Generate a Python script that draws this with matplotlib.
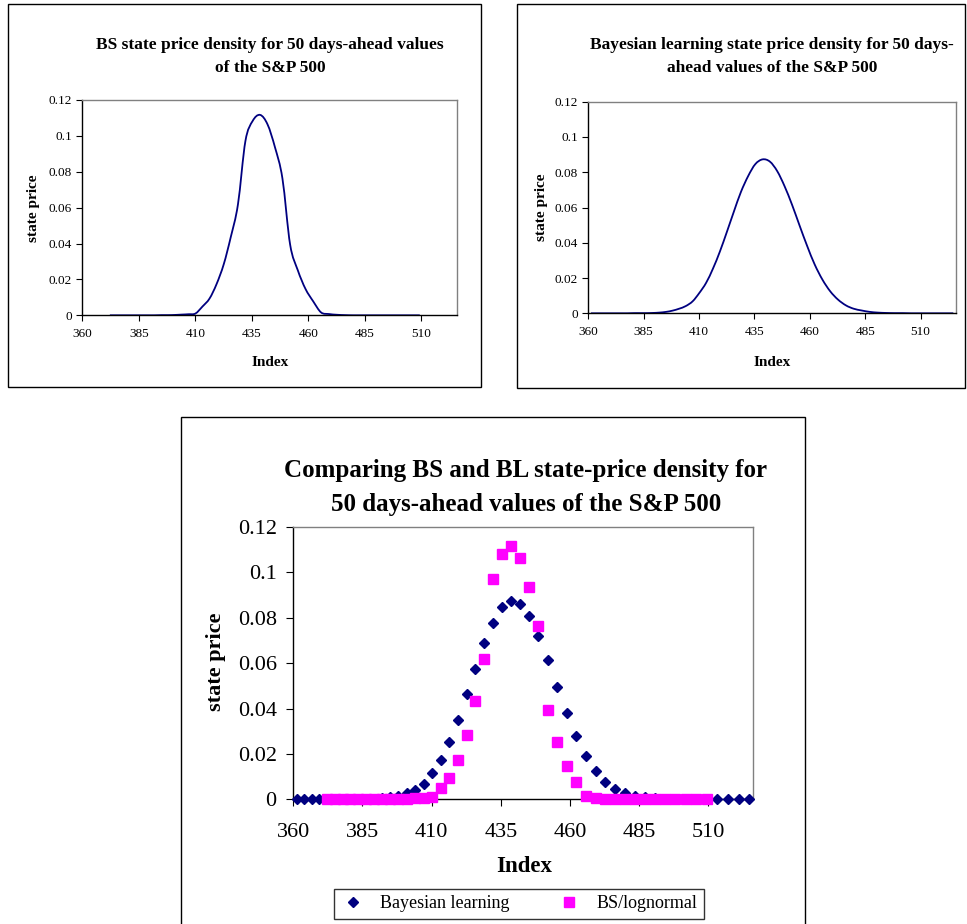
import matplotlib
matplotlib.use("Agg")
import matplotlib.pyplot as plt
from matplotlib.patches import Rectangle, PathPatch
from matplotlib.path import Path
from matplotlib.ticker import FuncFormatter

plt.rcParams['font.family'] = ['Liberation Serif', 'DejaVu Serif']

# ---------------- data ----------------
index_values = [361.2, 363.9, 366.6, 369.4, 372.2, 375.0, 377.8, 380.6, 383.5, 386.3,
                389.2, 392.1, 395.1, 398.0, 401.0, 404.0, 407.1, 410.1, 413.2, 416.3,
                419.4, 422.6, 425.7, 428.9, 432.2, 435.4, 438.7, 442.0, 445.3, 448.6,
                452.0, 455.4, 458.8, 462.2, 465.7, 469.2, 472.7, 476.3, 479.8, 483.4,
                487.1, 490.7, 494.4, 498.1, 501.9, 505.6, 509.4, 513.2, 517.1, 520.9,
                524.8]

bayesian_learning = [0, 0, 0, 0, 0, 0, 0, 0.0001, 0.0001, 0.0001,
                     0.0002, 0.0004, 0.0008, 0.0015, 0.0026, 0.0041, 0.0068, 0.0115, 0.0173, 0.0254,
                     0.0350, 0.0463, 0.0576, 0.0688, 0.0779, 0.0846, 0.0873, 0.0860, 0.0806, 0.0721,
                     0.0615, 0.0497, 0.0382, 0.0277, 0.0191, 0.0125, 0.0078, 0.0045, 0.0026, 0.0016,
                     0.0008, 0.0004, 0.0002, 0.0001, 0.0001, 0, 0, 0, 0, 0,
                     0]

# BS/lognormal series covers index_values[4] .. index_values[46]
bs_index = index_values[4:47]
bs_lognormal = [0, 0, 0, 0, 0, 0, 0, 0, 0.0001, 0.0001,
                0.0002, 0.0004, 0.0006, 0.0010, 0.0049, 0.0093, 0.0173, 0.0284, 0.0435, 0.0618,
                0.0971, 0.1083, 0.1117, 0.1064, 0.0936, 0.0762, 0.0394, 0.0251, 0.0147, 0.0078,
                0.0016, 0.0007, 0.0003, 0.0001, 0, 0, 0, 0, 0, 0,
                0, 0, 0]

x_ticks = [360, 385, 410, 435, 460, 485, 510]
y_ticks = [0, 0.02, 0.04, 0.06, 0.08, 0.1, 0.12]

title_bs = ["BS state price density for 50 days-ahead values", "of the S&P 500"]
title_bl = ["Bayesian learning state price density for 50 days-", "ahead values of the S&P 500"]
title_cmp = ["Comparing BS and BL state-price density for", "50 days-ahead values of the S&P 500"]

NAVY = "#000080"
MAGENTA = "#FF00FF"

W, H = 967, 924
fig = plt.figure(figsize=(W / 100, H / 100), dpi=100)


def fx(px):
    return px / W


def fy(py):
    return 1 - py / H


def axes_px(l, t, r, b):
    return fig.add_axes([fx(l), fy(b), (r - l) / W, (b - t) / H])


def frame(l, t, r, b):
    fig.patches.append(Rectangle((fx(l), fy(b)), (r - l) / W, (b - t) / H,
                                 transform=fig.transFigure, fill=False,
                                 edgecolor='black', linewidth=1.0))


def style(ax, tick_fs, tick_len, xpad, ypad):
    ax.set_xlim(360, 526)
    ax.set_ylim(0, 0.12)
    ax.set_xticks(x_ticks)
    ax.set_yticks(y_ticks)
    ax.yaxis.set_major_formatter(FuncFormatter(lambda v, p: f"{v:g}"))
    for s in ['top', 'right']:
        ax.spines[s].set_color('#808080')
        ax.spines[s].set_linewidth(1.0)
    for s in ['left', 'bottom']:
        ax.spines[s].set_color('black')
        ax.spines[s].set_linewidth(1.0)
    ax.tick_params(axis='x', direction='out', length=tick_len, width=0.8,
                   labelsize=tick_fs, pad=xpad)
    ax.tick_params(axis='y', direction='out', length=tick_len, width=0.8,
                   labelsize=tick_fs, pad=ypad)


def smooth_line(ax, xs, ys, **kw):
    """Excel-style smoothed line: cubic Bezier segments through the data points."""
    n = len(xs)
    verts = [(xs[0], ys[0])]
    codes = [Path.MOVETO]
    for i in range(n - 1):
        x0, y0 = (xs[i - 1], ys[i - 1]) if i > 0 else (xs[i], ys[i])
        x1, y1 = xs[i], ys[i]
        x2, y2 = xs[i + 1], ys[i + 1]
        x3, y3 = (xs[i + 2], ys[i + 2]) if i + 2 < n else (xs[i + 1], ys[i + 1])
        c1 = (x1 + (x2 - x0) / 6, y1 + (y2 - y0) / 6)
        c2 = (x2 - (x3 - x1) / 6, y2 - (y3 - y1) / 6)
        verts += [c1, c2, (x2, y2)]
        codes += [Path.CURVE4] * 3
    ax.add_patch(PathPatch(Path(verts, codes), fill=False, **kw))


# ---------------- frames ----------------
frame(8, 4, 481, 387)
frame(517, 4, 965, 388)
frame(181, 417, 805, 940)

# ---------------- top-left: BS ----------------
ax1 = axes_px(82.3, 100, 457.3, 315.3)
style(ax1, 9.5, 4, 5, 3.5)
smooth_line(ax1, bs_index, bs_lognormal, edgecolor=NAVY, linewidth=1.3)
fig.text(fx(270), fy(45), title_bs[0], ha='center', va='center', fontsize=12.5, fontweight='bold')
fig.text(fx(270), fy(68), title_bs[1], ha='center', va='center', fontsize=12.5, fontweight='bold')
fig.text(fx(33), fy(208), "state price", ha='center', va='center', rotation=90,
         fontsize=11, fontweight='bold')
fig.text(fx(270), fy(362), "Index", ha='center', va='center', fontsize=11, fontweight='bold')

# ---------------- top-right: Bayesian learning ----------------
ax2 = axes_px(588.3, 101.7, 956, 313.3)
style(ax2, 9.5, 4, 5, 3.5)
smooth_line(ax2, index_values, bayesian_learning, edgecolor=NAVY, linewidth=1.3)
fig.text(fx(772), fy(45), title_bl[0], ha='center', va='center', fontsize=12.5, fontweight='bold')
fig.text(fx(772), fy(68), title_bl[1], ha='center', va='center', fontsize=12.5, fontweight='bold')
fig.text(fx(541.7), fy(207), "state price", ha='center', va='center', rotation=90,
         fontsize=11, fontweight='bold')
fig.text(fx(771.7), fy(362), "Index", ha='center', va='center', fontsize=11, fontweight='bold')

# ---------------- bottom: comparison ----------------
ax3 = axes_px(293.3, 527, 752.7, 799.3)
style(ax3, 16, 5, 12, 7)
ax3.plot(index_values, bayesian_learning, linestyle='none', marker='D', markersize=5.3,
         color=NAVY, markeredgecolor=NAVY, label="Bayesian learning", clip_on=False, zorder=3)
ax3.plot(bs_index, bs_lognormal, linestyle='none', marker='s', markersize=7.5,
         color=MAGENTA, markeredgecolor=MAGENTA, label="BS/lognormal", clip_on=False, zorder=4)
fig.text(fx(526), fy(471), title_cmp[0], ha='center', va='center', fontsize=18, fontweight='bold')
fig.text(fx(526), fy(505), title_cmp[1], ha='center', va='center', fontsize=18, fontweight='bold')
fig.text(fx(216), fy(662), "state price", ha='center', va='center', rotation=90,
         fontsize=16, fontweight='bold')
fig.text(fx(524), fy(866), "Index", ha='center', va='center', fontsize=16.5, fontweight='bold')

leg = ax3.legend(loc='center', bbox_to_anchor=(fx(519), fy(904)), bbox_transform=fig.transFigure,
                 ncol=2, fontsize=13, frameon=True, fancybox=False, edgecolor='black',
                 handlelength=1.4, handletextpad=0.8, columnspacing=2.6, borderpad=0.35,
                 markerscale=0.9)
leg.get_frame().set_linewidth(1.0)

fig.savefig("out.png", dpi=100)
